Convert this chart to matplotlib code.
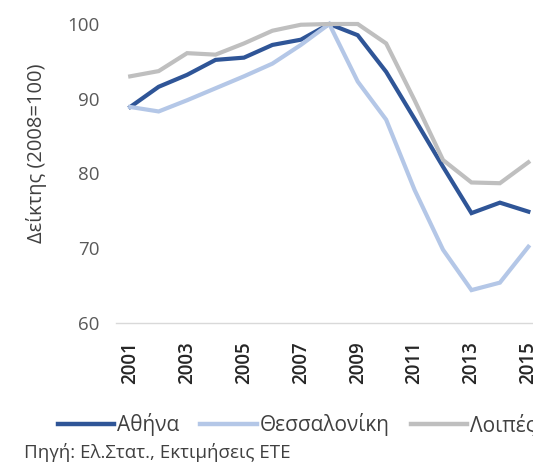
import matplotlib
matplotlib.use("Agg")
import matplotlib.pyplot as plt
from matplotlib.lines import Line2D

plt.rcParams['font.family'] = ['Open Sans', 'DejaVu Sans']

years = list(range(2001, 2016))
athens = [88.9, 91.6, 93.2, 95.2, 95.5, 97.2, 97.9, 100.0, 98.5, 93.6, 87.3, 80.9, 74.7, 76.1, 74.9]
thessaloniki = [88.9, 88.3, 89.8, 91.4, 93.0, 94.7, 97.2, 100.0, 92.3, 87.2, 77.8, 69.8, 64.4, 65.4, 70.2]
others = [93.0, 93.7, 96.1, 95.9, 97.4, 99.1, 99.9, 100.0, 100.0, 97.4, 89.8, 81.8, 78.8, 78.7, 81.5]
series_names = ['Αθήνα', 'Θεσσαλονίκη', 'Λοιπές']
tick_years = [2001, 2003, 2005, 2007, 2009, 2011, 2013, 2015]
yticks = [60, 70, 80, 90, 100]

colors = ['#2F5597', '#B4C7E7', '#BFBFBF']

W, H = 533, 463
fig = plt.figure(figsize=(W / 100, H / 100), dpi=100)
ax = fig.add_axes([116 / W, (H - 323) / H, 455 / W, 299 / H])

for vals, c, name in zip([athens, thessaloniki, others], colors, series_names):
    ax.plot(years, vals, color=c, lw=3.0, solid_joinstyle='miter', label=name, clip_on=False)

ax.set_xlim(2000.5, 2016.5)
ax.set_ylim(60, 100)
ax.set_yticks(yticks)
ax.set_yticklabels([str(v) for v in yticks], fontsize=13.5, color='#595959')
ax.set_xticks(tick_years)
ax.set_xticklabels([str(y) for y in tick_years], rotation=90, fontsize=13.5,
                   fontweight='semibold', color='#262626', va='top')
ax.tick_params(axis='y', length=0, pad=12)
ax.tick_params(axis='x', length=0, pad=13)
for s in ['top', 'right', 'left']:
    ax.spines[s].set_visible(False)
ax.spines['bottom'].set_color('#D9D9D9')
ax.spines['bottom'].set_linewidth(1.0)

fig.text(37 / W, 1 - 153 / H, 'Δείκτης (2008=100)', rotation=90, ha='center', va='center',
         fontsize=14.5, color='#404040')

handles = [Line2D([0], [0], color=c, lw=3.2) for c in colors]
fig.legend(handles, series_names, loc='center left', bbox_to_anchor=(58 / W, 1 - 425 / H),
           ncol=3, frameon=False, fontsize=15, handlelength=2.7, handletextpad=0.15,
           columnspacing=1.0, borderpad=0, borderaxespad=0, labelcolor='#404040')

fig.text(24 / W, 1 - 452 / H, 'Πηγή: Ελ.Στατ., Εκτιμήσεις ΕΤΕ', ha='left', va='center',
         fontsize=13.5, color='#404040')

fig.savefig('out.png', dpi=100)
